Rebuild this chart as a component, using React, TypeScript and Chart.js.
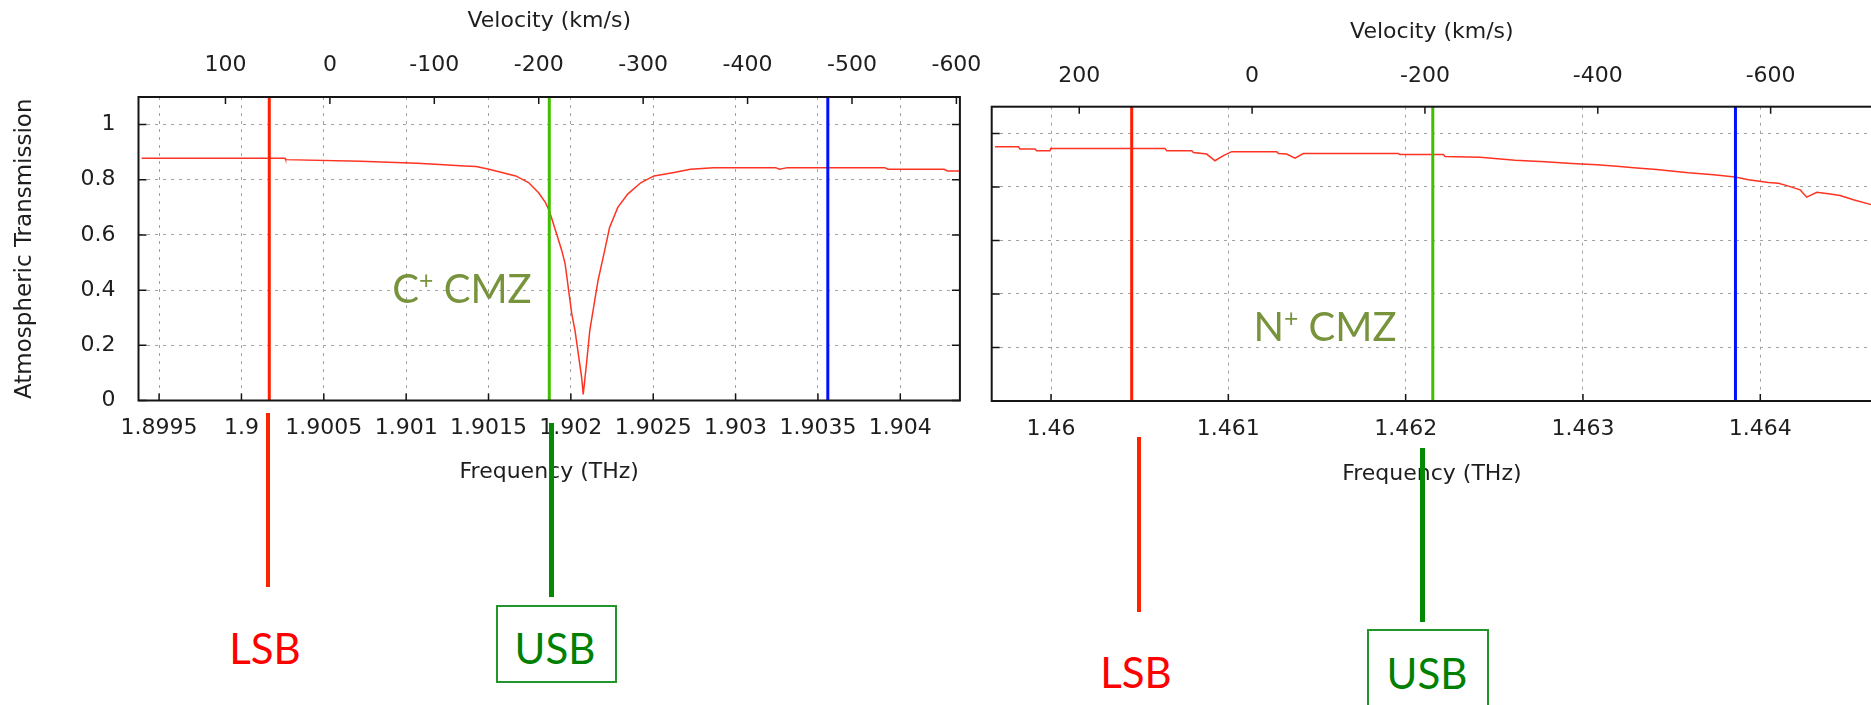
import React, { useEffect, useRef } from 'react';
import { Chart, registerables } from 'chart.js';

Chart.register(...registerables);

// ---------- data ----------
const SPEED_OF_LIGHT = 299792.458; // km/s

// Left panel: [CII] (C+) line
const cplusRestFreq = 1.900537; // THz
const cplusFreqRange = [1.899375, 1.904362];
const cplusFreq = [
  1.899394, 1.900265, 1.900268, 1.900723, 1.901065, 1.901203, 1.901353, 1.901425,
  1.901503, 1.901665, 1.901743, 1.901803, 1.901845, 1.901869, 1.901905, 1.901945,
  1.901965, 1.902005, 1.902025, 1.902065, 1.902075, 1.902095, 1.902115, 1.902165,
  1.902205, 1.902235, 1.902285, 1.902345, 1.902426, 1.902505, 1.902626, 1.902726,
  1.902866, 1.903244, 1.903266, 1.903316, 1.903906, 1.903926, 1.904266, 1.904286,
  1.904362,
];
const cplusTrans = [
  0.878, 0.878, 0.873, 0.867, 0.860, 0.855, 0.850, 0.848,
  0.838, 0.814, 0.790, 0.754, 0.718, 0.688, 0.620, 0.543,
  0.496, 0.316, 0.254, 0.086, 0.022, 0.134, 0.254, 0.435,
  0.543, 0.627, 0.700, 0.748, 0.790, 0.814, 0.826, 0.838,
  0.844, 0.844, 0.838, 0.844, 0.844, 0.838, 0.838, 0.832,
  0.832,
];
const cplusFreqTicks = [1.8995, 1.9, 1.9005, 1.901, 1.9015, 1.902, 1.9025, 1.903, 1.9035, 1.904];
const cplusFreqTickLabels = ['1.8995', '1.9', '1.9005', '1.901', '1.9015', '1.902', '1.9025', '1.903', '1.9035', '1.904'];
const cplusVelTicks = [100, 0, -100, -200, -300, -400, -500, -600];
const cplusVelTickLabels = ['100', '0', '-100', '-200', '-300', '-400', '-500', '-600'];
const cplusMarkerFreqs = [1.900169, 1.901869, 1.90356]; // red, green, blue

// Right panel: [NII] (N+) line
const nplusRestFreq = 1.461134; // THz
const nplusFreqRange = [1.4596655, 1.46463];
const nplusFreq = [
  1.459684, 1.459816, 1.459825, 1.45991, 1.459919, 1.459994, 1.459998, 1.460643,
  1.460653, 1.460794, 1.460803, 1.460878, 1.460925, 1.460972, 1.461019, 1.461273,
  1.461282, 1.461329, 1.461376, 1.461423, 1.461959, 1.461968, 1.462213, 1.462222,
  1.46242, 1.462617, 1.462786, 1.462937, 1.463078, 1.463191, 1.463303, 1.463416,
  1.46351, 1.463595, 1.463736, 1.463858, 1.463933, 1.464046, 1.464102, 1.46415,
  1.464225, 1.464262, 1.464319, 1.464394, 1.46445, 1.464525, 1.464625, 1.46463,
];
const nplusTrans = [
  0.950, 0.950, 0.942, 0.942, 0.935, 0.935, 0.944, 0.944,
  0.935, 0.935, 0.929, 0.923, 0.898, 0.917, 0.932, 0.932,
  0.925, 0.923, 0.908, 0.925, 0.925, 0.921, 0.921, 0.914,
  0.911, 0.900, 0.894, 0.888, 0.883, 0.877, 0.871, 0.865,
  0.859, 0.853, 0.846, 0.837, 0.827, 0.817, 0.814, 0.805,
  0.789, 0.762, 0.780, 0.774, 0.768, 0.752, 0.734, 0.733,
];
const nplusFreqTicks = [1.46, 1.461, 1.462, 1.463, 1.464];
const nplusFreqTickLabels = ['1.46', '1.461', '1.462', '1.463', '1.464'];
const nplusVelTicks = [200, 0, -200, -400, -600];
const nplusVelTickLabels = ['200', '0', '-200', '-400', '-600'];
const nplusMarkerFreqs = [1.460455, 1.462153, 1.46386]; // red, green, blue

const transRange = [0, 1.1];
const transTicks = [0, 0.2, 0.4, 0.6, 0.8, 1];
const transTickLabels = ['0', '0.2', '0.4', '0.6', '0.8', '1'];

// ---------- styling ----------
const markerColors = ['#ff1e00', '#40bf00', '#0010ff'];
const curveColor = '#ff3322';
const textColor = '#1e1e1e';
const gridColor = '#a3a3a3';
const FONT = "'DejaVu Sans', sans-serif";

const framePlugin = {
  id: 'frame',
  afterDraw(chart: any, _args: any, opts: any) {
    const { ctx, chartArea: a, scales } = chart;
    ctx.save();
    ctx.strokeStyle = '#151515';
    ctx.lineWidth = 1.5;
    ctx.beginPath();
    scales.x.ticks.forEach((t: any) => {
      const px = scales.x.getPixelForValue(t.value);
      ctx.moveTo(px, a.bottom);
      ctx.lineTo(px, a.bottom - 7);
    });
    scales.x2.ticks.forEach((t: any) => {
      const px = scales.x2.getPixelForValue(t.value);
      ctx.moveTo(px, a.top);
      ctx.lineTo(px, a.top + 7);
    });
    scales.y.ticks.forEach((t: any) => {
      const py = scales.y.getPixelForValue(t.value);
      ctx.moveTo(a.left, py);
      ctx.lineTo(a.left + 8, py);
      if (opts && opts.mirrorY) {
        ctx.moveTo(a.right, py);
        ctx.lineTo(a.right - 8, py);
      }
    });
    ctx.stroke();
    ctx.lineWidth = 2;
    ctx.strokeRect(a.left, a.top, a.right - a.left, a.bottom - a.top);
    ctx.restore();
  },
};

type PanelProps = {
  left: number;
  width: number;
  height: number;
  rest: number;
  freqRange: number[];
  freq: number[];
  trans: number[];
  freqTicks: number[];
  freqTickLabels: string[];
  velTicks: number[];
  velTickLabels: string[];
  markers: number[];
  axisLeftW: number;
  topH: number;
  bottomH: number;
  padRight: number;
  showY: boolean;
  mirrorY: boolean;
  topLabelPad: number;
  topTitlePad: number;
  bottomLabelPad: number;
  bottomTitlePad: number;
};

function Panel(p: PanelProps) {
  const ref = useRef<HTMLCanvasElement | null>(null);
  useEffect(() => {
    if (!ref.current) return;
    const vel = (f: number) => (SPEED_OF_LIGHT * (p.rest - f)) / p.rest;
    const font = { family: FONT, size: 22 };
    const datasets: any[] = p.markers.map((f, i) => ({
      data: [
        { x: f, y: transRange[0] },
        { x: f, y: transRange[1] },
      ],
      borderColor: markerColors[i],
      borderWidth: 3,
      pointRadius: 0,
    }));
    datasets.push({
      data: p.freq.map((f, i) => ({ x: f, y: p.trans[i] })),
      borderColor: curveColor,
      borderWidth: 1.5,
      pointRadius: 0,
      tension: 0,
    });
    const chart = new Chart(ref.current, {
      type: 'line',
      data: { datasets },
      plugins: [framePlugin],
      options: {
        animation: false,
        responsive: false,
        devicePixelRatio: 1,
        layout: { padding: { left: 0, top: 0, right: p.padRight, bottom: 0 } },
        plugins: {
          legend: { display: false },
          tooltip: { enabled: false },
          frame: { mirrorY: p.mirrorY },
        } as any,
        scales: {
          x: {
            type: 'linear',
            position: 'bottom',
            min: p.freqRange[0],
            max: p.freqRange[1],
            afterFit: (s: any) => {
              s.height = p.bottomH;
            },
            afterBuildTicks: (s: any) => {
              s.ticks = p.freqTicks.map((v) => ({ value: v }));
            },
            ticks: {
              callback: (_v: any, i: number) => p.freqTickLabels[i],
              font,
              color: textColor,
              padding: p.bottomLabelPad,
              maxRotation: 0,
              minRotation: 0,
              autoSkip: false,
            },
            grid: { drawTicks: false, color: gridColor, lineWidth: 1 },
            border: { display: false, dash: [3, 5] },
            title: {
              display: true,
              text: 'Frequency (THz)',
              font,
              color: textColor,
              padding: { top: 0, bottom: p.bottomTitlePad },
            },
          },
          x2: {
            type: 'linear',
            position: 'top',
            reverse: true,
            min: vel(p.freqRange[1]),
            max: vel(p.freqRange[0]),
            afterFit: (s: any) => {
              s.height = p.topH;
            },
            afterBuildTicks: (s: any) => {
              s.ticks = p.velTicks.map((v) => ({ value: v }));
            },
            ticks: {
              callback: (_v: any, i: number) => p.velTickLabels[i],
              font,
              color: textColor,
              padding: p.topLabelPad,
              maxRotation: 0,
              minRotation: 0,
              autoSkip: false,
            },
            grid: { display: false, drawTicks: false },
            border: { display: false },
            title: {
              display: true,
              text: 'Velocity (km/s)',
              font,
              color: textColor,
              padding: { top: p.topTitlePad, bottom: 0 },
            },
          },
          y: {
            type: 'linear',
            position: 'left',
            min: transRange[0],
            max: transRange[1],
            afterFit: (s: any) => {
              s.width = p.axisLeftW;
            },
            afterBuildTicks: (s: any) => {
              s.ticks = transTicks.map((v) => ({ value: v }));
            },
            ticks: {
              display: p.showY,
              callback: (_v: any, i: number) => transTickLabels[i],
              font,
              color: textColor,
              padding: 23,
            },
            grid: { drawTicks: false, color: gridColor, lineWidth: 1 },
            border: { display: false, dash: [3, 5] },
            title: {
              display: p.showY,
              text: 'Atmospheric Transmission',
              font: { family: FONT, size: 23 },
              color: textColor,
              padding: { top: 11, bottom: 0 },
            },
          },
        } as any,
      },
    });
    return () => chart.destroy();
  }, []);
  return (
    <canvas
      ref={ref}
      width={p.width}
      height={p.height}
      style={{ position: 'absolute', left: p.left, top: 0, width: p.width, height: p.height }}
    />
  );
}

const annoFont = "Lato, 'Open Sans', sans-serif";

function Label(props: { x: number; y: number; color: string; size: number; children: any }) {
  return (
    <div
      style={{
        position: 'absolute',
        left: props.x,
        top: props.y,
        transform: 'translate(-50%, -50%)',
        color: props.color,
        fontFamily: annoFont,
        fontSize: props.size,
        lineHeight: 1,
        whiteSpace: 'nowrap',
      }}
    >
      {props.children}
    </div>
  );
}

function VBar(props: { x: number; y1: number; y2: number; color: string }) {
  return (
    <div
      style={{
        position: 'absolute',
        left: props.x - 2.25,
        top: props.y1,
        width: 4.5,
        height: props.y2 - props.y1,
        background: props.color,
      }}
    />
  );
}

function Box(props: { x: number; y: number; w: number; h: number }) {
  return (
    <div
      style={{
        position: 'absolute',
        left: props.x,
        top: props.y,
        width: props.w,
        height: props.h,
        border: '2px solid #22962a',
        boxSizing: 'border-box',
      }}
    />
  );
}

const sup = { fontSize: '0.62em', position: 'relative' as const, top: '-0.55em' };

export default function App() {
  return (
    <div
      style={{
        position: 'absolute',
        left: 0,
        top: 0,
        width: 1871,
        height: 705,
        overflow: 'hidden',
        background: '#ffffff',
      }}
    >
      <Panel
        left={0}
        width={1000}
        height={520}
        rest={cplusRestFreq}
        freqRange={cplusFreqRange}
        freq={cplusFreq}
        trans={cplusTrans}
        freqTicks={cplusFreqTicks}
        freqTickLabels={cplusFreqTickLabels}
        velTicks={cplusVelTicks}
        velTickLabels={cplusVelTickLabels}
        markers={cplusMarkerFreqs}
        axisLeftW={138.5}
        topH={97}
        bottomH={119.5}
        padRight={30.7}
        showY={true}
        mirrorY={true}
        topLabelPad={18.5}
        topTitlePad={8.5}
        bottomLabelPad={15}
        bottomTitlePad={35}
      />
      <Panel
        left={970}
        width={910}
        height={520}
        rest={nplusRestFreq}
        freqRange={nplusFreqRange}
        freq={nplusFreq}
        trans={nplusTrans}
        freqTicks={nplusFreqTicks}
        freqTickLabels={nplusFreqTickLabels}
        velTicks={nplusVelTicks}
        velTickLabels={nplusVelTickLabels}
        markers={nplusMarkerFreqs}
        axisLeftW={21.7}
        topH={106.7}
        bottomH={119}
        padRight={8}
        showY={false}
        mirrorY={false}
        topLabelPad={17.5}
        topTitlePad={18.8}
        bottomLabelPad={15}
        bottomTitlePad={33}
      />

      <Label x={462} y={288} color="#77933c" size={40}>
        C<span style={sup}>+</span> CMZ
      </Label>
      <Label x={1325} y={326} color="#77933c" size={40}>
        N<span style={sup}>+</span> CMZ
      </Label>

      <VBar x={268} y1={413} y2={587} color="#ff2400" />
      <VBar x={551.5} y1={423} y2={597} color="#058a05" />
      <Label x={265} y={648} color="#ff0000" size={42}>
        LSB
      </Label>
      <Box x={496} y={605} w={121} h={78} />
      <Label x={555} y={648} color="#008000" size={42}>
        USB
      </Label>

      <VBar x={1139} y1={437} y2={612} color="#ff2400" />
      <VBar x={1422.5} y1={448} y2={622} color="#058a05" />
      <Label x={1136} y={672} color="#ff0000" size={42}>
        LSB
      </Label>
      <Box x={1367} y={629} w={122} h={90} />
      <Label x={1427} y={673} color="#008000" size={42}>
        USB
      </Label>
    </div>
  );
}
